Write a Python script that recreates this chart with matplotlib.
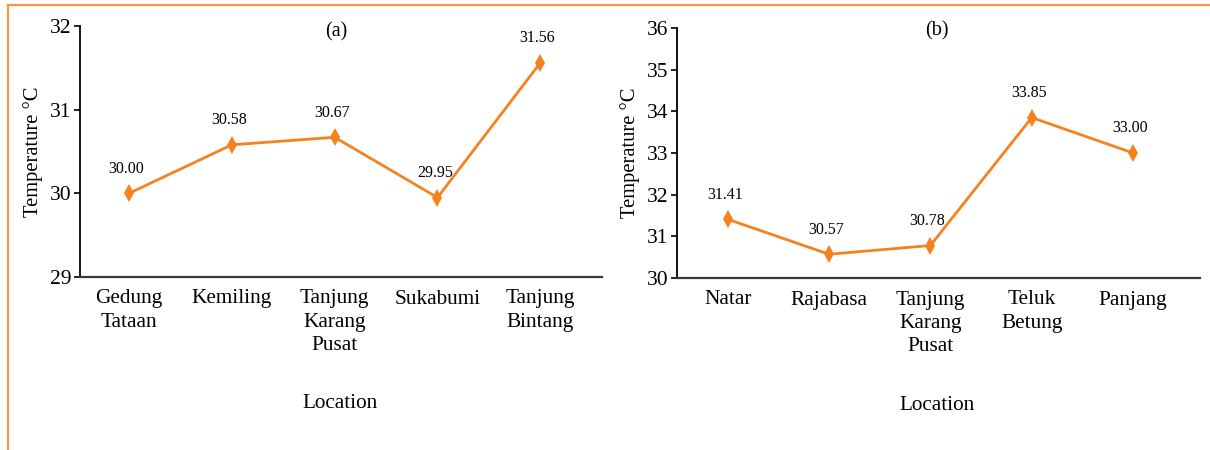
import matplotlib
matplotlib.use("Agg")
import matplotlib.pyplot as plt
from matplotlib.lines import Line2D

# District temperatures, panel (a)
locations_a = ["Gedung\nTataan", "Kemiling", "Tanjung\nKarang\nPusat", "Sukabumi", "Tanjung\nBintang"]
temps_a = [30.00, 30.58, 30.67, 29.95, 31.56]
yticks_a = [29, 30, 31, 32]

# District temperatures, panel (b)
locations_b = ["Natar", "Rajabasa", "Tanjung\nKarang\nPusat", "Teluk\nBetung", "Panjang"]
temps_b = [31.41, 30.57, 30.78, 33.85, 33.00]
yticks_b = [30, 31, 32, 33, 34, 35, 36]

LINE = "#F5821F"
FRAME = "#F79646"
plt.rcParams["font.family"] = ["Liberation Serif", "DejaVu Serif"]

W, H = 1210, 450
fig = plt.figure(figsize=(W / 100, H / 100), dpi=100)


def box(l, t, r, b):
    return [l / W, 1 - b / H, (r - l) / W, (b - t) / H]


def panel(rect, labels, values, yticks, xlim, title, title_xy, ylab_x, xlab_xy):
    ax = fig.add_axes(box(*rect))
    x = list(range(len(labels)))
    ax.plot(x, values, color=LINE, lw=2.0, marker="d", ms=9, mew=0,
            clip_on=False, zorder=3)
    for xi, v in zip(x, values):
        ax.annotate(f"{v:.2f}", (xi, v), xytext=(-2, 12), textcoords="offset points",
                    ha="center", va="bottom", fontsize=11.5)
    ax.set_xlim(*xlim)
    ax.set_ylim(yticks[0], yticks[-1])
    ax.set_yticks(yticks)
    ax.set_xticks(x)
    ax.set_xticklabels(labels, fontsize=15.3, linespacing=1.32)
    ax.tick_params(axis="x", length=0, pad=9)
    ax.tick_params(axis="y", length=4, width=1.2, labelsize=15.5, pad=2, direction="out")
    for s in ("top", "right"):
        ax.spines[s].set_visible(False)
    ax.spines["left"].set_linewidth(1.3)
    ax.spines["left"].set_color("black")
    ax.spines["bottom"].set_linewidth(1.6)
    ax.spines["bottom"].set_color("#3a3a3a")
    fig.text(title_xy[0] / W, 1 - title_xy[1] / H, title, ha="center", va="center", fontsize=14.5)
    mid = (rect[1] + rect[3]) / 2
    fig.text(ylab_x / W, 1 - mid / H, "Temperature °C", rotation=90,
             ha="center", va="center", fontsize=14.8)
    fig.text(xlab_xy[0] / W, 1 - xlab_xy[1] / H, "Location", ha="center", va="center", fontsize=15.3)
    return ax


panel((80, 26, 602, 277), locations_a, temps_a, yticks_a, (-0.477, 4.6),
      "(a)", (336, 32), 33, (340, 404))
panel((677, 28, 1200, 278), locations_b, temps_b, yticks_b, (-0.5, 4.66),
      "(b)", (937, 31), 630, (937, 406))

# Decorative frame on the left and top edges
fig.add_artist(Line2D([8 / W, 8 / W], [0, 1 - 5 / H], color=FRAME, lw=1.6,
                      transform=fig.transFigure))
fig.add_artist(Line2D([8 / W, 1], [1 - 5 / H, 1 - 5 / H], color=FRAME, lw=1.6,
                      transform=fig.transFigure))

fig.savefig("out.png", dpi=100)
